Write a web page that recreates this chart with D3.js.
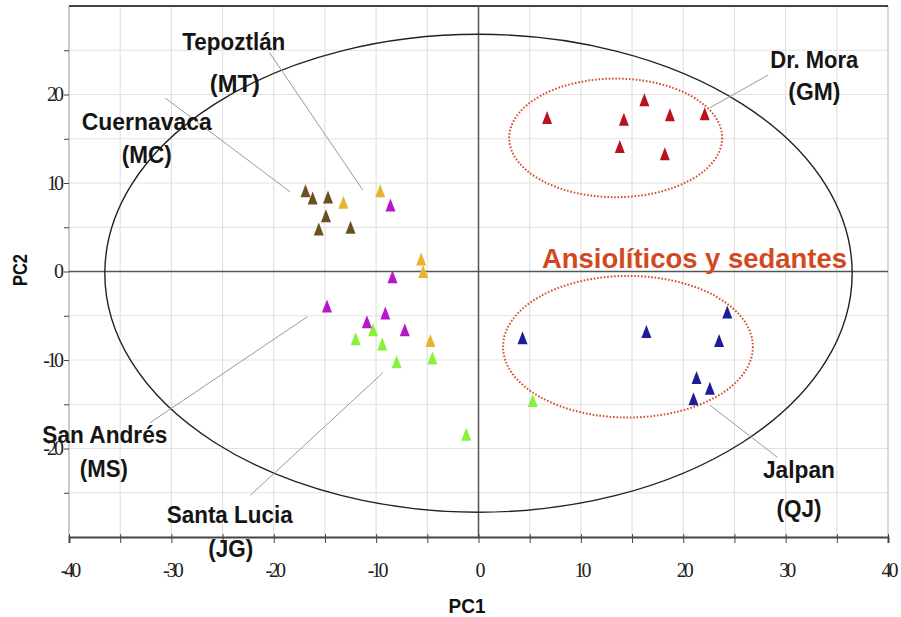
<!DOCTYPE html>
<html>
<head>
<meta charset="utf-8"/>
<script src="https://cdn.jsdelivr.net/npm/d3@7"></script>
<style>
  body { margin:0; background:#fff; }
  .tick text { font-family:"Liberation Serif", serif; font-size:20px; fill:#222; letter-spacing:-3px; }
  .lbl { font-family:"Liberation Sans", Arial, sans-serif; font-weight:bold; font-size:24px; fill:#151515; text-anchor:middle; }
  .title { font-family:"Liberation Sans", Arial, sans-serif; font-weight:bold; font-size:20px; fill:#111; text-anchor:middle; }
</style>
</head>
<body>
<script>
// scores PC1 / PC2
var drMora     = [[6.7,17.3],[14.2,17.1],[16.2,19.3],[18.7,17.6],[22.1,17.7],[13.8,14.0],[18.2,13.2]];
var jalpan     = [[4.3,-7.6],[16.4,-6.9],[24.3,-4.7],[23.5,-7.9],[21.3,-12.1],[22.6,-13.3],[21.0,-14.5]];
var santaLucia = [[-10.3,-6.7],[-12.0,-7.7],[-9.4,-8.3],[-8.0,-10.3],[-4.5,-9.9],[5.3,-14.7],[-1.2,-18.5]];
var sanAndres  = [[-8.6,7.4],[-8.4,-0.7],[-14.8,-4.0],[-9.1,-4.8],[-10.9,-5.8],[-7.2,-6.7]];
var tepoztlan  = [[-9.6,9.0],[-13.2,7.7],[-5.6,1.3],[-5.4,-0.1],[-4.7,-7.9]];
var cuernavaca = [[-16.9,9.0],[-16.2,8.2],[-14.7,8.3],[-14.9,6.2],[-15.6,4.7],[-12.5,4.9]];

var xTicks = [-40,-30,-20,-10,0,10,20,30,40];
var yTicks = [-20,-10,0,10,20];

var W = 901, H = 617;
var x = d3.scaleLinear().domain([-40,40]).range([69,888]);
var y = d3.scaleLinear().domain([-30,30]).range([537,6]);

var svg = d3.select("body").append("svg").attr("width",W).attr("height",H);

// grid every 5 units
var g5x = d3.range(-35,40,5), g5y = d3.range(-25,30,5);
svg.append("g").selectAll("line").data(g5x).join("line")
  .attr("x1",d=>x(d)).attr("x2",d=>x(d)).attr("y1",y(30)).attr("y2",y(-30))
  .attr("stroke","#e2e2e2").attr("stroke-width",1.2);
svg.append("g").selectAll("line").data(g5y).join("line")
  .attr("y1",d=>y(d)).attr("y2",d=>y(d)).attr("x1",x(-40)).attr("x2",x(40))
  .attr("stroke","#e2e2e2").attr("stroke-width",1.2);

// frame
svg.append("line").attr("x1",x(-40)).attr("x2",x(-40)).attr("y1",y(30)).attr("y2",y(-30)).attr("stroke","#bbb").attr("stroke-width",1.5);
svg.append("line").attr("x1",x(40)).attr("x2",x(40)).attr("y1",y(30)).attr("y2",y(-30)).attr("stroke","#ccc").attr("stroke-width",1.5);
svg.append("line").attr("x1",x(-40)).attr("x2",x(40)).attr("y1",y(30)).attr("y2",y(30)).attr("stroke","#444").attr("stroke-width",2);

// zero lines
svg.append("line").attr("x1",x(0)).attr("x2",x(0)).attr("y1",y(30)).attr("y2",y(-30)).attr("stroke","#555").attr("stroke-width",1.5);
svg.append("line").attr("x1",x(-40)).attr("x2",x(40)).attr("y1",y(0)).attr("y2",y(0)).attr("stroke","#555").attr("stroke-width",1.5);

// axes
var xAxis = svg.append("g").attr("transform","translate(0,"+y(-30)+")")
  .call(d3.axisBottom(x).tickValues(d3.range(-40,45,5)).tickSize(6).tickPadding(20)
    .tickFormat(d => xTicks.indexOf(d) >= 0 ? d : ""));
xAxis.select(".domain").attr("stroke","#444").attr("stroke-width",2);
xAxis.selectAll(".tick line").attr("stroke","#444").attr("y1",-3);

var yAxis = svg.append("g").attr("transform","translate("+x(-40)+",0)")
  .call(d3.axisLeft(y).tickValues(d3.range(-25,30,5)).tickSize(5).tickPadding(3)
    .tickFormat(d => yTicks.indexOf(d) >= 0 ? d : ""));
yAxis.select(".domain").remove();
yAxis.selectAll(".tick line").attr("stroke","#444");

// big confidence ellipse
svg.append("ellipse").attr("cx",x(0)).attr("cy",y(-0.2))
  .attr("rx",x(36.5)-x(0)).attr("ry",y(0)-y(27))
  .attr("fill","none").attr("stroke","#222").attr("stroke-width",1.4);

// red dotted group ellipses
var groupEll = [[13.4,15.1,10.4,6.7],[14.6,-8.5,12.2,8.0]];
svg.append("g").selectAll("ellipse").data(groupEll).join("ellipse")
  .attr("cx",d=>x(d[0])).attr("cy",d=>y(d[1]))
  .attr("rx",d=>x(d[2])-x(0)).attr("ry",d=>y(0)-y(d[3]))
  .attr("fill","none").attr("stroke","#d2502a").attr("stroke-width",2)
  .attr("stroke-dasharray","1.6,1.8");

// leader lines
var leaders = [
  [-20.4,24.7,-11.3,9.2],[-30.6,19.6,-18.4,9.0],[-32.1,-17.1,-16.7,-5.1],
  [-22.3,-25.3,-9.3,-11.4],[22.6,-15.1,29.2,-21.0],[22.6,18.5,28.3,22.2]];
svg.append("g").selectAll("line").data(leaders).join("line")
  .attr("x1",d=>x(d[0])).attr("y1",d=>y(d[1])).attr("x2",d=>x(d[2])).attr("y2",d=>y(d[3]))
  .attr("stroke","#999").attr("stroke-width",1);

// cone-shaped triangle markers
var cone = { draw: function(c, s) { c.moveTo(0,-7.5); c.lineTo(5,5.5); c.lineTo(-5,5.5); c.closePath(); } };
var sym = d3.symbol().type(cone);
var series = [
  [drMora,"#b8121c"],[jalpan,"#1d1d96"],[santaLucia,"#86f23a"],
  [sanAndres,"#b816c8"],[tepoztlan,"#e6b42e"],[cuernavaca,"#6b5120"]];
series.forEach(function(s) {
  svg.append("g").selectAll("path").data(s[0]).join("path")
    .attr("d",sym).attr("fill",s[1])
    .attr("transform",d=>"translate("+x(d[0])+","+y(d[1])+")");
});

// labels
var labels = [
  ["Tepoztlán",-23.9,25.0,103],["(MT)",-23.8,20.3,50],
  ["Cuernavaca",-32.4,16.0,130],["(MC)",-32.4,12.3,50],
  ["Dr. Mora",32.8,23.0,88],["(GM)",32.8,19.4,52],
  ["San Andrés",-36.5,-19.4,125],["(MS)",-36.6,-23.2,48],
  ["Santa Lucia",-24.3,-28.4,126],["(JG)",-24.2,-32.3,45],
  ["Jalpan",31.3,-23.3,72],["(QJ)",31.3,-27.7,45]];
svg.append("g").selectAll("text").data(labels).join("text")
  .attr("class","lbl").attr("x",d=>x(d[1])).attr("y",d=>y(d[2]))
  .attr("textLength",d=>d[3]).attr("lengthAdjust","spacingAndGlyphs")
  .text(d=>d[0]);

svg.append("text").attr("x",x(6.2)).attr("y",y(0.35))
  .attr("font-family","Liberation Sans, Arial, sans-serif").attr("font-weight","bold")
  .attr("font-size",28).attr("fill","#d2491f")
  .attr("textLength",305).attr("lengthAdjust","spacingAndGlyphs")
  .text("Ansiolíticos y sedantes");

svg.append("text").attr("class","title").attr("x",467).attr("y",613)
  .attr("textLength",37).attr("lengthAdjust","spacingAndGlyphs").text("PC1");
svg.append("text").attr("class","title").attr("transform","translate(27,270) rotate(-90)")
  .attr("font-size",18).attr("textLength",32).attr("lengthAdjust","spacingAndGlyphs").text("PC2");
</script>
</body>
</html>
